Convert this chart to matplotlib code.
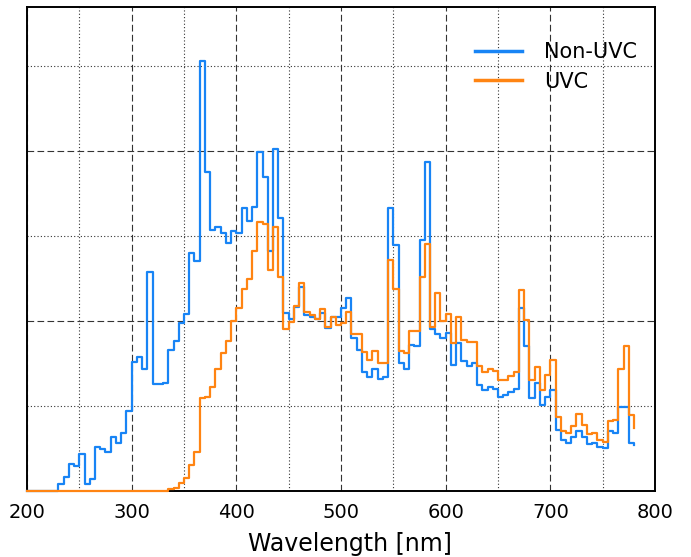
import numpy as np
import matplotlib
matplotlib.use("Agg")
import matplotlib.pyplot as plt
from matplotlib.ticker import MultipleLocator, NullFormatter

# wavelength bin edges in nm (5 nm bins, last point closes the step)
wavelength = list(range(200, 785, 5))

# relative irradiance (grid units)
non_uvc = [0, 0, 0, 0, 0, 0, 0.08, 0.16, 0.32, 0.29,
           0.44, 0.08, 0.14, 0.52, 0.49, 0.46, 0.64, 0.56, 0.68, 0.94,
           1.52, 1.58, 1.44, 2.57, 1.26, 1.26, 1.27, 1.66, 1.76, 1.98,
           2.08, 2.80, 2.70, 5.06, 3.75, 3.07, 3.10, 3.03, 2.91, 3.06,
           3.03, 3.33, 3.17, 3.34, 3.98, 3.69, 2.82, 4.02, 3.21, 2.09,
           2.02, 2.16, 2.40, 2.07, 2.04, 2.02, 2.09, 1.92, 2.05, 2.04,
           2.15, 2.27, 1.80, 1.66, 1.40, 1.34, 1.44, 1.32, 1.34, 3.33,
           2.89, 1.51, 1.44, 1.72, 1.70, 2.95, 3.87, 1.91, 1.84, 1.80,
           1.86, 1.48, 1.74, 1.53, 1.47, 1.51, 1.25, 1.19, 1.22, 1.20,
           1.10, 1.13, 1.16, 1.20, 2.15, 1.70, 1.09, 1.27, 1.01, 1.11,
           1.19, 0.72, 0.60, 0.57, 0.63, 0.70, 0.64, 0.55, 0.57, 0.52,
           0.50, 0.70, 0.68, 0.99, 0.99, 0.57, 0.54]

uvc = [0, 0, 0, 0, 0, 0, 0, 0, 0, 0,
       0, 0, 0, 0, 0, 0, 0, 0, 0, 0,
       0, 0, 0, 0, 0, 0, 0, 0.02, 0.04, 0.09,
       0.15, 0.31, 0.46, 1.09, 1.11, 1.22, 1.44, 1.62, 1.76, 2.00,
       2.15, 2.37, 2.49, 2.82, 3.16, 3.14, 2.60, 3.10, 2.52, 1.90,
       1.99, 2.18, 2.44, 2.10, 2.07, 2.02, 2.14, 1.93, 2.04, 1.95,
       1.97, 2.10, 1.85, 1.84, 1.63, 1.54, 1.64, 1.50, 1.50, 2.71,
       2.38, 1.64, 1.62, 1.88, 1.88, 2.51, 2.90, 1.93, 2.33, 2.00,
       2.08, 1.74, 2.04, 1.78, 1.75, 1.75, 1.47, 1.40, 1.43, 1.41,
       1.30, 1.31, 1.35, 1.40, 2.36, 2.01, 1.31, 1.46, 1.19, 1.36,
       1.54, 0.87, 0.71, 0.68, 0.76, 0.91, 0.78, 0.67, 0.68, 0.60,
       0.58, 0.82, 0.83, 1.43, 1.71, 0.89, 0.74]

labels = ["Non-UVC", "UVC"]
colors = ["#1884f5", "#ff8412"]

fig = plt.figure(figsize=(6.91, 5.57), dpi=100)
ax = fig.add_axes([27 / 691, 1 - 491 / 557, 628 / 691, 484 / 557])

# clip_on off so the zero part of the steps shows on the bottom spine
ax.step(wavelength, non_uvc, where="post", color=colors[0], lw=1.6,
        label=labels[0], clip_on=False, zorder=3)
ax.step(wavelength, uvc, where="post", color=colors[1], lw=1.6,
        label=labels[1], clip_on=False, zorder=4)

ax.set_xlim(200, 800)
ax.set_ylim(0, 5.69)

# dashed major grid, dotted minor grid
ax.xaxis.set_major_locator(MultipleLocator(100))
ax.xaxis.set_minor_locator(MultipleLocator(50))
ax.yaxis.set_major_locator(MultipleLocator(2))
ax.yaxis.set_minor_locator(MultipleLocator(1))
ax.yaxis.set_major_formatter(NullFormatter())
ax.grid(which="major", color="0.2", lw=0.8, dashes=(6, 3))
ax.grid(which="minor", color="0.2", lw=0.8, dashes=(1, 2))
ax.set_axisbelow(True)
ax.tick_params(which="both", length=0)
ax.tick_params(axis="x", labelsize=14, pad=9)

for spine in ax.spines.values():
    spine.set_linewidth(1.4)
    spine.set_zorder(2)

ax.set_xlabel("Wavelength [nm]", fontsize=17)
ax.xaxis.set_label_coords(0.515, -0.085)

leg = ax.legend(loc="upper right", bbox_to_anchor=(1.001, 0.966), frameon=False,
                fontsize=15, handlelength=2.25, handletextpad=1.05,
                labelspacing=0.45)
for line in leg.get_lines():
    line.set_linewidth(2.5)

fig.savefig("out.png", dpi=100)
